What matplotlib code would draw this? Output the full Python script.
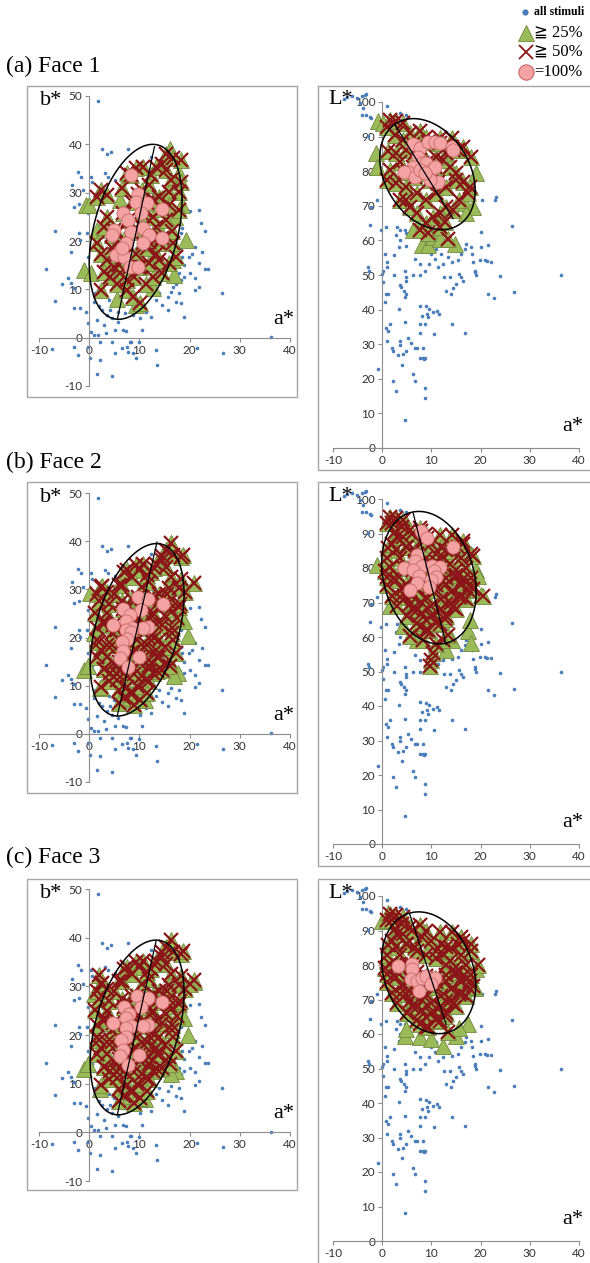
import numpy as np
import matplotlib.pyplot as plt
from matplotlib.patches import Rectangle
from matplotlib.lines import Line2D

plt.rcParams['axes.unicode_minus'] = False

# ---------------- data ----------------
# all stimuli, a*-b* plane
blue_ab = [(1.75, 48.9), (2.6, 39.0), (3.6, 37.9), (4.4, 38.4), (7.8, 39.0), (-2.3, 34.3), (-1.6, 33.3),
           (0.45, 33.3), (0.65, 32.2), (-3.4, 31.5), (-1.3, 30.5), (-3.05, 27.1), (-2.1, 27.6), (3.05, 34.0),
           (3.7, 33.3), (5.2, 32.7), (4.2, 28.6), (5.65, 25.7), (-6.9, 22.1), (-2.1, 21.6), (-1.9, 20.2),
           (-3.6, 17.8), (-0.2, 16.7), (-8.6, 14.3), (-4.2, 12.3), (-3.6, 11.4), (-5.5, 11.2), (-3.05, 10.3),
           (-6.9, 7.6), (-3.05, 6.1), (-1.75, 6.1), (-0.65, 5.4), (-0.2, 3.0), (0.45, 1.2), (1.0, 0.55),
           (1.75, 0.55), (3.4, 0.9), (5.2, 1.6), (6.8, 1.6), (7.3, 1.4), (10.6, 1.6), (2.1, -0.8), (4.5, -0.8),
           (7.5, -1.9), (8.4, -0.8), (8.8, -3.2), (9.4, -4.3), (7.8, -2.9), (6.5, -2.2), (5.2, -3.2),
           (13.6, -5.6), (13.3, -2.5), (1.6, -7.5), (4.5, -7.9), (2.1, -4.6), (0.2, -4.3), (-2.3, -3.6),
           (-7.5, -2.4), (21.4, -2.2), (26.6, -3.1), (36.2, 0.07), (26.4, 9.2), (18.8, 4.3), (21.1, 9.8),
           (21.8, 10.5), (21.1, 12.3), (20.1, 13.3), (23.1, 14.3), (23.7, 14.3), (21.8, 15.4), (19.8, 16.7),
           (20.5, 17.4), (22.5, 17.8), (21.1, 18.8), (21.8, 26.4), (20.1, 26.2), (22.3, 23.8), (23.1, 22.1),
           (18.5, 22.6), (18.2, 21.6), (17.9, 9.2), (16.6, 10.5), (17.2, 7.4), (18.2, 7.1), (15.6, 5.7),
           (14.6, 6.7), (13.3, 7.8), (11.4, 5.4), (12.3, 4.3), (10.1, 4.0), (8.8, 4.7), (7.1, 5.0), (5.8, 5.4),
           (4.2, 5.7), (2.6, 5.7), (1.9, 6.5), (1.0, 7.4), (2.3, 8.5), (1.75, 9.8), (1.2, 9.2), (3.9, 7.8),
           (4.9, 7.1), (6.3, 7.4), (3.6, 4.7), (1.6, 3.7), (2.9, 2.6), (4.5, 4.0), (5.8, 3.3), (14.0, 9.2),
           (15.6, 8.5), (16.2, 9.5), (17.2, 11.2), (18.2, 11.9), (18.8, 12.6), (17.9, 13.3), (18.8, 15.0),
           (18.5, 16.7), (18.2, 18.1), (17.2, 24.3), (17.1, 21.6), (-0.2, 25.7), (-0.45, 21.6), (0.65, 14.0),
           (1.0, 12.6), (14.6, 27.8), (12.7, 29.8), (11.4, 32.6), (12.3, 37.4), (15.3, 38.1), (8.2, -0.8),
           (9.9, -1.0), (-0.3, -1.9), (-3.05, -1.9)]

# all stimuli, a*-L* plane
blue_aL = [(-7.2, 101.5), (-6.2, 101.6), (-5.2, 101.1), (-7.8, 100.9), (-4.2, 101.6), (-3.5, 101.9),
           (-3.2, 102.3), (-4.5, 99.7), (-3.9, 98.3), (-4.2, 96.3), (-3.2, 96.3), (-2.5, 95.6), (-2.2, 95.4),
           (0.9, 98.9), (3.6, 96.8), (4.8, 96.3), (-2.8, 90.2), (-1.15, 71.6), (-2.2, 69.7), (-2.4, 64.4),
           (-0.3, 62.9), (0.7, 63.9), (3.0, 63.9), (3.6, 62.9), (2.9, 61.5), (3.6, 60.0), (4.6, 62.9),
           (4.9, 62.0), (3.4, 58.1), (4.9, 58.3), (2.4, 55.7), (0.5, 56.1), (0.9, 53.7), (1.0, 52.3),
           (0.2, 51.3), (-0.1, 50.3), (0.07, 47.9), (-2.8, 52.3), (-2.6, 51.3), (1.2, 44.5), (2.4, 49.9),
           (3.6, 47.0), (3.9, 46.5), (4.6, 51.3), (4.8, 49.4), (4.8, 48.4), (4.5, 45.5), (4.6, 43.6),
           (6.3, 49.9), (7.6, 49.9), (8.6, 51.3), (6.6, 54.7), (7.6, 53.2), (9.5, 53.2), (10.0, 56.1),
           (10.7, 54.7), (11.0, 57.6), (12.0, 56.1), (12.4, 53.2), (13.4, 55.2), (14.1, 53.7), (11.4, 52.3),
           (12.5, 49.4), (13.7, 49.4), (13.0, 45.5), (13.9, 44.5), (14.4, 46.3), (15.1, 47.4), (15.7, 50.3),
           (16.1, 49.4), (16.4, 48.4), (15.4, 54.2), (16.1, 56.1), (16.8, 57.6), (17.1, 59.1), (18.1, 58.1),
           (18.3, 56.1), (18.8, 51.3), (19.0, 49.9), (18.9, 50.8), (18.4, 53.7), (19.8, 54.2), (20.1, 58.1),
           (20.8, 54.2), (21.3, 54.0), (20.1, 62.4), (20.3, 71.6), (23.2, 72.6), (23.0, 71.6), (21.5, 58.6),
           (22.2, 53.9), (26.4, 64.1), (23.9, 49.6), (36.4, 49.9), (26.7, 45.0), (21.6, 44.5), (22.8, 43.3),
           (16.9, 33.2), (14.1, 35.8), (10.3, 39.2), (9.5, 40.2), (9.2, 38.7), (9.3, 37.8), (11.1, 39.7),
           (11.5, 38.7), (7.6, 41.1), (8.9, 40.9), (8.0, 38.2), (7.6, 35.8), (8.6, 35.8), (7.6, 33.2),
           (10.5, 32.9), (5.3, 31.9), (5.8, 30.3), (6.6, 29.0), (8.2, 29.0), (8.6, 26.1), (7.6, 26.1),
           (8.2, 26.1), (7.1, 29.0), (4.8, 28.1), (4.3, 27.1), (3.6, 31.0), (3.2, 26.8), (1.9, 29.0),
           (2.1, 28.1), (1.6, 35.8), (1.1, 33.9), (0.7, 34.8), (0.9, 31.0), (2.2, 19.4), (2.8, 16.5),
           (-0.95, 22.7), (6.6, 19.4), (8.4, 25.7), (8.6, 17.4), (8.6, 14.5), (4.6, 8.2), (6.3, 21.3),
           (4.1, 24.0), (3.6, 29.8), (0.7, 44.5), (0.5, 42.1), (3.4, 40.2), (4.6, 36.3), (4.8, 44.5)]

# Face 1, a*-b*
f1_ab_tri = [(-0.65, 27.4), (0.0, 27.4), (-1.0, 14.0), (0.3, 13.3), (19.2, 20.2), (12.7, 10.2), (9.4, 6.7),
             (5.5, 8.1), (16.9, 12.9), (16.6, 16.0), (6.2, 28.4), (1.6, 22.2), (14.6, 28.8), (18.5, 27.4),
             (16.0, 39.0), (17.8, 34.0), (14.5, 21.5), (17.0, 25.0)]
f1_ab_x = [(15.3, 38.1), (16.6, 37.1), (18.2, 36.7), (14.6, 36.0), (13.3, 35.3), (10.7, 35.3), (9.4, 35.0),
           (7.5, 34.0), (12.3, 33.6), (15.3, 34.6), (16.2, 32.6), (18.2, 32.2), (17.9, 30.2), (15.9, 30.2),
           (2.3, 30.5), (3.6, 29.5), (1.6, 29.1), (12.0, 31.5), (14.0, 29.1), (15.9, 27.4), (17.9, 26.4),
           (3.6, 25.0), (2.9, 22.9), (5.5, 21.6), (1.6, 19.5), (2.3, 17.4), (3.6, 16.0), (4.9, 14.7),
           (4.2, 12.6), (6.2, 13.3), (5.5, 11.2), (7.5, 9.8), (8.8, 8.5), (10.1, 7.1), (11.4, 11.2),
           (12.7, 12.6), (14.6, 13.3), (15.9, 15.4), (17.2, 16.7), (13.3, 17.4), (12.0, 15.4), (14.0, 19.5),
           (16.6, 19.5), (13.3, 22.9), (12.7, 25.0), (15.3, 24.3), (2.3, 9.8), (10.1, 14.7), (9.4, 17.4),
           (12.0, 19.8), (10.7, 22.9), (6.0, 15.0), (7.5, 12.0), (9.0, 12.5), (11.0, 26.5), (13.0, 28.5),
           (10.5, 30.5), (6.5, 31.0), (8.5, 28.0), (4.5, 18.5), (3.0, 13.5), (16.5, 22.0), (14.0, 16.0),
           (7.0, 20.5), (11.5, 18.5)]
f1_ab_o = [(8.4, 33.6), (9.7, 29.8), (9.4, 28.0), (11.5, 27.8), (14.5, 26.7), (6.8, 25.7), (10.4, 25.7),
           (7.8, 24.3), (4.9, 22.2), (8.4, 21.9), (10.8, 22.6), (12.0, 21.3), (14.5, 20.7), (7.3, 19.6),
           (10.8, 19.5), (6.2, 18.0), (5.4, 17.1), (6.9, 16.7), (8.2, 14.7), (9.7, 14.7), (6.5, 18.5),
           (4.5, 21.2)]

# extra >=50% stimuli in Faces 2 and 3, a*-b*
f23_ab_x_extra = [(2.6, 30.6), (1.2, 25.1), (2.0, 27.5), (1.5, 22.0), (2.0, 19.0), (1.5, 16.0), (3.0, 13.5),
                  (4.0, 11.0), (6.0, 9.0), (7.0, 7.5), (8.4, 8.2), (9.5, 10.0), (10.5, 12.0), (12.0, 14.0),
                  (13.5, 16.0), (15.0, 18.0), (16.5, 21.0), (17.5, 24.0), (18.0, 27.0), (19.0, 29.5),
                  (20.9, 31.3), (18.6, 37.2), (16.2, 39.6), (14.5, 37.0), (13.0, 34.5), (11.5, 33.0),
                  (10.0, 34.0), (8.5, 32.5), (7.0, 33.5), (6.0, 31.0), (5.0, 29.0), (4.0, 27.0), (6.5, 27.5),
                  (8.0, 26.5), (9.5, 24.0), (11.0, 23.0), (12.5, 24.5), (13.5, 27.0), (15.5, 29.0),
                  (16.0, 26.0), (14.5, 22.5), (13.0, 20.0), (11.0, 18.0), (9.5, 19.5), (8.5, 17.0),
                  (7.0, 14.5), (5.5, 12.5), (3.5, 18.5), (4.5, 21.0), (3.0, 23.5), (10.5, 15.5),
                  (12.0, 11.0), (13.5, 13.0), (16.0, 14.0), (6.0, 6.5), (9.0, 6.0), (11.5, 8.5)]

# Face 2, a*-b*
f2_ab_tri = [(-1.0, 13.3), (0.2, 29.3), (2.2, 9.5), (11.1, 7.1), (19.6, 20.3), (18.9, 23.4), (17.6, 12.7),
             (16.9, 12.0), (7.7, 7.1), (16.2, 39.6), (-0.3, 14.0), (1.0, 21.0)]
f2_ab_x = f1_ab_x + f23_ab_x_extra
f2_ab_o = [(9.7, 28.4), (11.8, 27.9), (14.7, 27.0), (6.8, 25.9), (10.4, 25.7), (8.2, 24.6), (7.3, 23.5),
           (4.8, 22.5), (11.8, 22.2), (10.7, 21.9), (8.6, 22.0), (7.3, 21.6), (8.4, 21.1), (7.5, 19.7),
           (6.5, 19.0), (6.8, 17.2), (6.1, 15.8), (9.9, 16.0), (7.7, 13.9)]

# Face 3, a*-b*
f3_ab_tri = [(-1.0, 13.1), (0.9, 28.5), (2.2, 8.9), (11.1, 6.9), (19.6, 19.9), (18.9, 23.4), (17.2, 12.7),
             (16.2, 12.0), (7.7, 6.5), (20.9, 30.9), (-0.3, 14.0)]
f3_ab_x = f1_ab_x + f23_ab_x_extra + [(1.9, 32.3), (20.0, 30.5)]
f3_ab_o = [(9.6, 28.0), (11.8, 27.7), (14.6, 26.7), (6.9, 25.7), (10.4, 25.7), (8.0, 24.4), (7.3, 23.4),
           (4.8, 22.4), (11.8, 22.0), (10.7, 21.9), (8.4, 21.8), (7.3, 21.5), (7.3, 19.5), (6.4, 18.9),
           (6.8, 17.0), (6.1, 15.6), (9.9, 15.8), (7.7, 13.8)]

# Face 1, a*-L*
f1_aL_tri = [(-1.3, 85.2), (-1.0, 81.3), (-0.8, 94.4), (0.1, 93.9), (19.1, 79.4), (8.0, 58.6), (9.3, 58.6),
             (14.7, 59.1), (10.3, 61.0), (11.7, 60.5), (7.0, 63.9), (6.3, 62.9), (16.8, 70.7), (18.4, 69.7),
             (17.1, 67.8)]
f1_aL_x = [(1.6, 94.9), (2.9, 94.4), (4.3, 93.9), (0.9, 92.9), (2.6, 90.5), (4.3, 89.1), (5.6, 91.0),
           (7.6, 91.5), (9.0, 90.0), (11.7, 89.5), (14.1, 89.5), (1.2, 85.7), (2.9, 85.2), (4.9, 86.2),
           (3.6, 82.8), (13.0, 85.2), (15.4, 86.2), (16.4, 87.1), (18.1, 84.2), (1.6, 80.3), (0.9, 77.4),
           (2.9, 76.5), (4.9, 75.5), (3.6, 71.6), (5.6, 69.7), (7.0, 73.6), (9.0, 71.6), (11.0, 73.6),
           (13.0, 75.5), (15.1, 77.4), (16.4, 76.9), (17.8, 75.5), (17.4, 73.6), (15.7, 71.6), (14.4, 68.7),
           (13.0, 69.7), (11.7, 67.8), (10.3, 66.8), (9.0, 64.9), (7.6, 62.9), (9.3, 62.0), (11.7, 63.9),
           (13.4, 60.5), (12.7, 65.3), (7.0, 67.8), (4.9, 71.6), (15.1, 79.4), (13.7, 81.3), (12.4, 83.3),
           (11.0, 84.2), (6.6, 85.2)]
f1_aL_o = [(6.3, 87.9), (7.6, 86.6), (9.3, 88.3), (10.7, 88.3), (11.8, 88.1), (14.2, 87.1), (14.4, 86.2),
           (7.3, 84.2), (8.0, 82.3), (9.0, 82.3), (6.3, 81.3), (5.3, 79.9), (4.4, 79.9), (6.6, 78.4),
           (7.6, 80.3), (10.0, 80.3), (10.7, 81.3), (11.4, 77.0), (9.7, 77.4), (8.6, 79.4)]

# extra >=50% stimuli in Faces 2 and 3, a*-L*
f23_aL_x_extra = [(2, 93), (4, 92), (6, 90), (8, 88), (10, 87), (12, 86), (14, 85), (16, 83), (17, 80),
                  (18, 77), (18.5, 74), (17, 71), (15, 68), (13, 66), (11, 64), (9, 62), (7, 64), (5, 66),
                  (3, 69), (2, 72), (1, 75), (0.5, 79), (1, 83), (2, 87), (3, 89), (5, 86), (7, 84), (9, 83),
                  (11, 82), (13, 80), (15, 78), (16, 75), (14, 73), (12, 71), (10, 69), (8, 70), (6, 72),
                  (4, 74), (3, 78), (5, 80), (7, 78), (9, 76), (11, 75), (13, 77), (12, 68), (10, 66),
                  (8, 67), (6, 68), (14, 70), (16, 72)]

# Face 2, a*-L*
f2_aL_tri = [(-1.0, 81.0), (1.6, 69.1), (1.4, 94.5), (4.9, 93.0), (19.1, 79.5), (19.5, 77.6), (17.4, 61.6),
             (18.1, 58.3), (13.0, 56.3), (14.1, 59.2), (7.0, 59.2), (4.3, 63.1), (20.1, 72.3), (17.8, 65.0)]
f2_aL_x = f1_aL_x + f23_aL_x_extra + [(10.0, 53.4), (9.7, 51.5), (10.3, 55.4), (12.4, 59.2), (5.6, 60.2),
                                      (8.3, 59.2), (20.5, 71.8), (16.4, 87.7), (18.4, 83.4), (11.0, 58.0)]
f2_aL_o = [(7.8, 90.8), (9.2, 88.7), (14.3, 86.1), (7.0, 83.9), (6.6, 81.9), (8.0, 80.7), (4.4, 80.0),
           (6.3, 79.5), (7.5, 77.6), (10.2, 80.7), (11.7, 80.3), (10.6, 79.0), (11.0, 77.4), (10.0, 76.6),
           (7.0, 75.7), (5.6, 73.7), (9.5, 74.5)]

# Face 3, a*-L*
f3_aL_tri = [(-0.1, 92.8), (1.2, 95.2), (4.6, 59.4), (7.6, 59.0), (10.0, 58.5), (12.4, 56.5), (15.1, 59.4),
             (17.4, 62.8), (4.9, 61.4), (0.9, 81.2), (19.1, 78.7), (18.8, 73.4), (15.7, 61.8)]
f3_aL_x = f1_aL_x + f23_aL_x_extra + [(18.0, 86.0), (19.5, 80.0), (16.0, 88.0)]
f3_aL_o = [(3.2, 79.7), (6.1, 80.2), (6.1, 78.7), (5.9, 75.8), (7.0, 75.4), (8.0, 76.3), (9.0, 76.8),
           (10.7, 76.3), (10.0, 74.4), (7.4, 72.5)]

# ellipses: centre a*, centre b*/L*, half range in a*, half range in b*/L*, a* offset of the top point
ell_ab = [(9.25, 21.9, 9.25, 18.1, 3.4), (9.55, 21.6, 9.35, 17.9, 3.85), (9.55, 21.55, 9.35, 17.95, 3.75)]
ell_aL = [(9.2, 79.15, 9.7, 16.05, -2.85), (9.5, 77.2, 9.6, 19.2, -2.05), (9.45, 77.75, 9.55, 17.65, -2.05)]
# axis lines drawn through the ellipses: (a1, y1, a2, y2)
axis_ab = [(5.65, 4.0, 13.0, 39.5), (5.6, 3.8, 13.5, 39.8), (5.6, 3.6, 13.3, 39.2)]
axis_aL = [(2.6, 93.4, 14.4, 66.3), (6.3, 95.9, 13.0, 57.8), (5.6, 94.7, 13.0, 62.8)]

titles = ['(a) Face 1', '(b) Face 2', '(c) Face 3']
x_ticks = [-10, 0, 10, 20, 30, 40]
b_ticks = [-10, 0, 10, 20, 30, 40, 50]
L_ticks = [0, 10, 20, 30, 40, 50, 60, 70, 80, 90, 100]

faces = [
    (f1_ab_tri, f1_ab_x, f1_ab_o, f1_aL_tri, f1_aL_x, f1_aL_o),
    (f2_ab_tri, f2_ab_x, f2_ab_o, f2_aL_tri, f2_aL_x, f2_aL_o),
    (f3_ab_tri, f3_ab_x, f3_ab_o, f3_aL_tri, f3_aL_x, f3_aL_o),
]

# ---------------- styling ----------------
BLUE = '#4A7EBB'
GREEN = '#9BBB59'
GREEN_EDGE = '#71893F'
DARKRED = '#8B1518'
PINK = '#F4A2A2'
PINK_EDGE = '#C86A6A'
AXGRAY = '#8C8C8C'
SERIF = ['Liberation Serif', 'DejaVu Serif', 'DejaVu Sans']

W, H = 590, 1263
fig = plt.figure(figsize=(W / 100, H / 100), dpi=100)


def fx(x):
    return x / W


def fy(y):
    return 1 - y / H


def box(x0, y0, x1, y1):
    fig.add_artist(Rectangle((fx(x0), fy(y1)), fx(x1) - fx(x0), fy(y0) - fy(y1),
                             transform=fig.transFigure, fill=False, ec='#A6A6A6', lw=1.0))


def xy(pts):
    arr = np.array(pts, dtype=float)
    return arr[:, 0], arr[:, 1]


def draw_ellipse(ax, ell, line):
    ca, cy, wa, hy, dx_top = ell
    cov = np.array([[wa ** 2, dx_top * hy], [dx_top * hy, hy ** 2]])
    chol = np.linalg.cholesky(cov)
    t = np.linspace(0, 2 * np.pi, 300)
    pts = chol @ np.vstack([np.cos(t), np.sin(t)])
    ax.plot(ca + pts[0], cy + pts[1], color='black', lw=1.1, zorder=6, clip_on=False)
    a1, y1, a2, y2 = line
    ax.plot([a1, a2], [y1, y2], color='black', lw=0.9, zorder=6)


def panel(rect_px, ylim, yticks, blue, tri, crs, circ, ell, line, ylab, ylab_pos, xlab_pos):
    x0, ytop, x1, ybot = rect_px
    ax = fig.add_axes([fx(x0), fy(ybot), fx(x1) - fx(x0), fy(ytop) - fy(ybot)])
    ax.set_xlim(-10, 40)
    ax.set_ylim(*ylim)
    ax.patch.set_visible(False)
    for s in ['top', 'right']:
        ax.spines[s].set_visible(False)
    for s in ['left', 'bottom']:
        ax.spines[s].set_position(('data', 0))
        ax.spines[s].set_color(AXGRAY)
        ax.spines[s].set_linewidth(0.8)
    ax.set_xticks(x_ticks)
    ax.set_yticks(yticks)
    ax.tick_params(direction='out', length=3, width=0.8, color=AXGRAY, labelsize=8.5,
                   labelcolor='#333333', pad=2)
    for lab in ax.get_xticklabels() + ax.get_yticklabels():
        lab.set_family('Lato')

    bx, by = xy(blue)
    ax.plot(bx, by, 'o', ms=2.6, mfc=BLUE, mec='none', clip_on=False, zorder=2)
    tx, ty = xy(tri + crs + circ)
    ax.plot(tx, ty, '^', ms=11, mfc=GREEN, mec=GREEN_EDGE, mew=0.6, clip_on=False, zorder=3)
    cx, cy = xy(crs + circ)
    ax.plot(cx, cy, 'x', ms=10, mec=DARKRED, mew=1.6, clip_on=False, zorder=4)
    ox, oy = xy(circ)
    ax.plot(ox, oy, 'o', ms=9.5, mfc=PINK, mec=PINK_EDGE, mew=0.6, clip_on=False, zorder=5)

    draw_ellipse(ax, ell, line)

    ax.text(ylab_pos[0], ylab_pos[1], ylab, family=SERIF, fontsize=16, ha='center', va='center', zorder=7)
    ax.text(xlab_pos[0], xlab_pos[1], 'a*', family=SERIF, fontsize=16, ha='center', va='center', zorder=7)
    return ax


# pixel geometry of each row:
# (box top, box bottom, b* -10 px, b* 50 px, L* 0 px, L* 100 px, title y, right box bottom)
rows = [(86, 397, 386, 96, 448, 102, 66, 470),
        (482, 793, 782, 493, 844, 499, 462, 866),
        (879, 1190, 1181, 889, 1241, 896, 857, 1290)]

for i, (top, bot, bm10, b50, L0, L100, ty, rbot) in enumerate(rows):
    ab_tri, ab_x, ab_o, aL_tri, aL_x, aL_o = faces[i]
    box(27, top, 297, bot)
    box(318, top, 600, rbot)
    fig.text(fx(6), fy(ty), titles[i], family=SERIF, fontsize=17, va='center', ha='left')
    panel((39, b50, 290, bm10), (-10, 50), b_ticks, blue_ab, ab_tri, ab_x, ab_o, ell_ab[i], axis_ab[i],
          'b*', (-7.6, 49.0), (38.8, 3.8))
    panel((333, L100, 579, L0), (0, 100), L_ticks, blue_aL, aL_tri, aL_x, aL_o, ell_aL[i], axis_aL[i],
          'L*', (-8.4, 100.6), (38.8, 6.3))

# legend (top right)
leg_items = [('o', 'all stimuli', 8.5, 12), ('^', '\u2267 25%', 12, 33), ('x', '\u2267 50%', 12, 52),
             ('O', '=100%', 12, 72)]
for mk, label, fs, yy in leg_items:
    if mk == 'o':
        fig.add_artist(Line2D([fx(525)], [fy(yy)], marker='o', ms=4.5, mfc=BLUE, mec='none',
                              transform=fig.transFigure))
    elif mk == '^':
        fig.add_artist(Line2D([fx(526)], [fy(yy)], marker='^', ms=12, mfc=GREEN, mec=GREEN_EDGE, mew=0.6,
                              transform=fig.transFigure))
    elif mk == 'x':
        fig.add_artist(Line2D([fx(526)], [fy(yy)], marker='x', ms=10, mec=DARKRED, mew=1.3,
                              transform=fig.transFigure))
    else:
        fig.add_artist(Line2D([fx(526)], [fy(yy)], marker='o', ms=11, mfc=PINK, mec=PINK_EDGE, mew=0.8,
                              transform=fig.transFigure))
    fig.text(fx(534), fy(yy), label, family=SERIF, fontsize=fs, va='center', ha='left',
             fontweight='bold' if mk == 'o' else 'normal')

fig.savefig('out.png', dpi=100)
